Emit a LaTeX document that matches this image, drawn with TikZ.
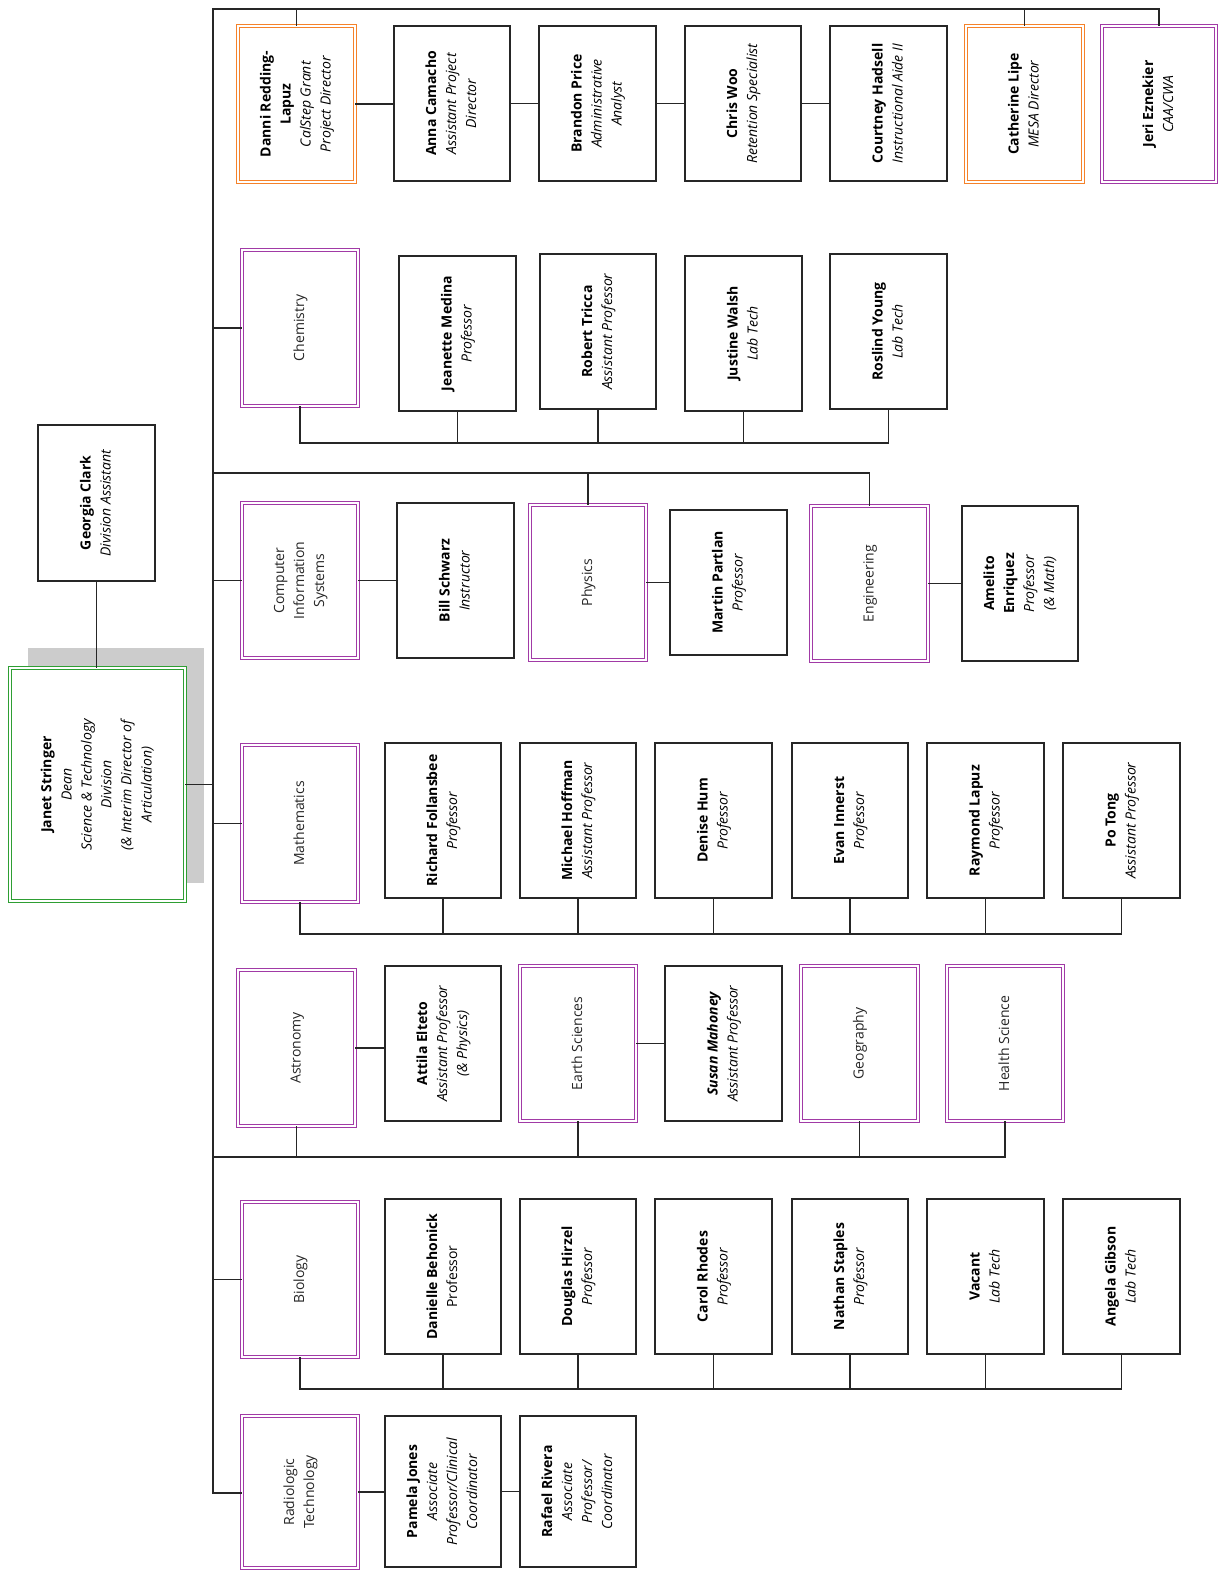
\documentclass[tikz,border=0pt]{standalone}
\usepackage{fontspec}
\setmainfont{Open Sans}
\usepackage{graphicx}
\definecolor{purp}{HTML}{A13AA6}
\definecolor{orng}{HTML}{F5822A}
\definecolor{grn}{HTML}{2E9E33}
\definecolor{lnc}{HTML}{262626}
\definecolor{dept}{HTML}{262626}
\definecolor{shd}{HTML}{CCCCCC}
\newcommand\vt[1]{\rotatebox{90}{\begin{tabular}{@{}c@{}}#1\end{tabular}}}
\newcommand\ob[7]{\node[#1, minimum width={(#5-#3)*1pt}, minimum height={(#6-#4)*1pt}] (#2) at ({(#3+#5)/2},{(#4+#6)/2}) {\vt{#7}};}
\tikzset{
  base/.style={inner sep=0pt, outer sep=0pt, fill=white, font=\fontsize{14}{20}\selectfont},
  pbox/.style={base, draw=lnc, line width=1.3pt},
  purbox/.style={base, draw=purp, double=white, double distance=2.2pt, line width=1pt, text=dept},
  orbox/.style={base, draw=orng, double=white, double distance=2.2pt, line width=1pt},
  grbox/.style={base, draw=grn, double=white, double distance=2.2pt, line width=1pt},
  conn/.style={draw=lnc, line width=1.3pt},
}
\newcommand\nm[1]{\textbf{#1}}
\newcommand\tl[1]{\textit{#1}}
\begin{document}
\begin{tikzpicture}[x=1pt,y=-1pt]
\useasboundingbox (0,0) rectangle (1217,1570);
% shadow behind dean
\node[fill=shd, inner sep=0pt, minimum width=176pt, minimum height=235pt] (shadow) at (116,765.5) {};
% coordinates
\coordinate (mtop) at (213,9);
\coordinate (mbot) at (213,1493);
\coordinate (tend) at (1160,9);
\coordinate (bus2) at (0,443);
\coordinate (bus3) at (0,473);
\coordinate (bus4) at (0,934);
\coordinate (bus5) at (0,1157);
\coordinate (bus6) at (0,1389);
% ---- top row
\ob{orbox}{danni}{238}{26}{355}{182}{\nm{Danni Redding-}\\\nm{Lapuz}\\\tl{CalStep Grant}\\\tl{Project Director}}
\ob{pbox}{anna}{394}{26}{510}{181}{\nm{Anna Camacho}\\\tl{Assistant Project}\\\tl{Director}}
\ob{pbox}{brandon}{539}{26}{656}{181}{\nm{Brandon Price}\\\tl{Administrative}\\\tl{Analyst}}
\ob{pbox}{chris}{685}{26}{801}{181}{\nm{Chris Woo}\\\tl{Retention Specialist}}
\ob{pbox}{courtney}{830}{26}{947}{181}{\nm{Courtney Hadsell}\\\tl{Instructional Aide II}}
\ob{orbox}{catherine}{966}{26}{1083}{182}{\nm{Catherine Lipe}\\\tl{MESA Director}}
\ob{purbox}{jeri}{1102}{26}{1216}{182}{\color{black}\nm{Jeri Eznekier}\\\color{black}\tl{CAA/CWA}}
% ---- chemistry row
\ob{purbox}{chem}{242}{250}{358}{406}{Chemistry}
\ob{pbox}{jeanette}{399}{256}{516}{411}{\nm{Jeanette Medina}\\\tl{Professor}}
\ob{pbox}{robert}{540}{254}{656}{409}{\nm{Robert Tricca}\\\tl{Assistant Professor}}
\ob{pbox}{justine}{685}{256}{802}{411}{\nm{Justine Walsh}\\\tl{Lab Tech}}
\ob{pbox}{roslind}{830}{254}{947}{409}{\nm{Roslind Young}\\\tl{Lab Tech}}
% ---- assistant
\ob{pbox}{georgia}{38}{425}{155}{581}{\nm{Georgia Clark}\\\tl{Division Assistant}}
% ---- CIS row
\ob{purbox}{cis}{242}{503}{358}{658}{Computer\\Information\\Systems}
\ob{pbox}{bill}{397}{503}{514}{658}{\nm{Bill Schwarz}\\\tl{Instructor}}
\ob{purbox}{physics}{530}{505}{646}{660}{Physics}
\ob{pbox}{martin}{670}{510}{787}{655}{\nm{Martin Partlan}\\\tl{Professor}}
\ob{purbox}{eng}{811}{506}{928}{661}{Engineering}
\ob{pbox}{amelito}{962}{506}{1078}{661}{\nm{Amelito}\\\nm{Enriquez}\\\tl{Professor}\\\tl{(\& Math)}}
% ---- dean
\ob{grbox}{janet}{10}{668}{185}{901}{\nm{Janet Stringer}\\\tl{Dean}\\\tl{Science \& Technology}\\\tl{Division}\\\tl{(\& Interim Director of}\\\tl{Articulation)}}
% ---- math row
\ob{purbox}{math}{242}{745}{358}{902}{Mathematics}
\ob{pbox}{richard}{385}{743}{501}{898}{\nm{Richard Follansbee}\\\tl{Professor}}
\ob{pbox}{michael}{520}{743}{636}{898}{\nm{Michael Hoffman}\\\tl{Assistant Professor}}
\ob{pbox}{denise}{655}{743}{772}{898}{\nm{Denise Hum}\\\tl{Professor}}
\ob{pbox}{evan}{792}{743}{908}{898}{\nm{Evan Innerst}\\\tl{Professor}}
\ob{pbox}{raymond}{927}{743}{1044}{898}{\nm{Raymond Lapuz}\\\tl{Professor}}
\ob{pbox}{po}{1063}{743}{1180}{898}{\nm{Po Tong}\\\tl{Assistant Professor}}
% ---- astronomy row
\ob{purbox}{astro}{238}{970}{355}{1126}{Astronomy}
\ob{pbox}{attila}{385}{966}{501}{1121}{\nm{Attila Elteto}\\\tl{Assistant Professor}\\\tl{(\& Physics)}}
\ob{purbox}{earth}{520}{966}{636}{1121}{Earth Sciences}
\ob{pbox}{susan}{665}{966}{782}{1121}{\textbf{\textit{Susan Mahoney}}\\\tl{Assistant Professor}}
\ob{purbox}{geo}{801}{966}{918}{1121}{Geography}
\ob{purbox}{health}{947}{966}{1063}{1121}{Health Science}
% ---- biology row
\ob{purbox}{bio}{242}{1202}{358}{1357}{Biology}
\ob{pbox}{danielle}{385}{1199}{501}{1354}{\nm{Danielle Behonick}\\Professor}
\ob{pbox}{douglas}{520}{1199}{636}{1354}{\nm{Douglas Hirzel}\\\tl{Professor}}
\ob{pbox}{carol}{655}{1199}{772}{1354}{\nm{Carol Rhodes}\\\tl{Professor}}
\ob{pbox}{nathan}{792}{1199}{908}{1354}{\nm{Nathan Staples}\\\tl{Professor}}
\ob{pbox}{vacant}{927}{1199}{1044}{1354}{\nm{Vacant}\\\tl{Lab Tech}}
\ob{pbox}{angela}{1063}{1199}{1180}{1354}{\nm{Angela Gibson}\\\tl{Lab Tech}}
% ---- radiologic row
\ob{purbox}{radio}{242}{1416}{358}{1568}{Radiologic\\Technology}
\ob{pbox}{pamela}{385}{1416}{501}{1567}{\nm{Pamela Jones}\\\tl{Associate}\\\tl{Professor/Clinical}\\\tl{Coordinator}}
\ob{pbox}{rafael}{520}{1416}{636}{1567}{\nm{Rafael Rivera}\\\tl{Associate}\\\tl{Professor/}\\\tl{Coordinator}}
% ================= connectors
\begin{scope}[conn]
% main spine and top bar
\draw (tend) -- (mtop) -- (mbot) -- (mbot -| radio.west);
\draw (danni.north |- mtop) -- (danni.north);
\draw (catherine.north |- mtop) -- (catherine.north);
\draw (jeri.north |- mtop) -- (jeri.north);
\draw (danni.east) -- (danni.east -| anna.west);
\draw (anna.east) -- (anna.east -| brandon.west);
\draw (brandon.east) -- (brandon.east -| chris.west);
\draw (chris.east) -- (chris.east -| courtney.west);
% chemistry
\draw (chem.west -| mtop) -- (chem.west);
\draw (chem.south) -- (chem.south |- bus2) -| (roslind.south);
\foreach \n in {jeanette,robert,justine} \draw (\n.south) -- (\n.south |- bus2);
% row 3
\draw (mtop |- bus3) -| (eng.north);
\draw (physics.north |- bus3) -- (physics.north);
\draw (cis.west -| mtop) -- (cis.west);
\draw (cis.east) -- (cis.east -| bill.west);
\draw (physics.east) -- (physics.east -| martin.west);
\draw (eng.east) -- (eng.east -| amelito.west);
% dean
\draw (georgia.south) -- (georgia.south |- janet.north);
\draw (janet.east) -- (janet.east -| mtop);
% math
\draw (math.west -| mtop) -- (math.west);
\draw (math.south) -- (math.south |- bus4) -| (po.south);
\foreach \n in {richard,michael,denise,evan,raymond} \draw (\n.south) -- (\n.south |- bus4);
% astronomy
\draw (mtop |- bus5) -| (health.south);
\foreach \n in {astro,earth,geo} \draw (\n.south) -- (\n.south |- bus5);
\draw (astro.east) -- (astro.east -| attila.west);
\draw (earth.east) -- (earth.east -| susan.west);
% biology
\draw (bio.west -| mtop) -- (bio.west);
\draw (bio.south) -- (bio.south |- bus6) -| (angela.south);
\foreach \n in {danielle,douglas,carol,nathan,vacant} \draw (\n.south) -- (\n.south |- bus6);
% radiologic
\draw (radio.east) -- (radio.east -| pamela.west);
\draw (pamela.east) -- (pamela.east -| rafael.west);
\end{scope}
\end{tikzpicture}
\end{document}
